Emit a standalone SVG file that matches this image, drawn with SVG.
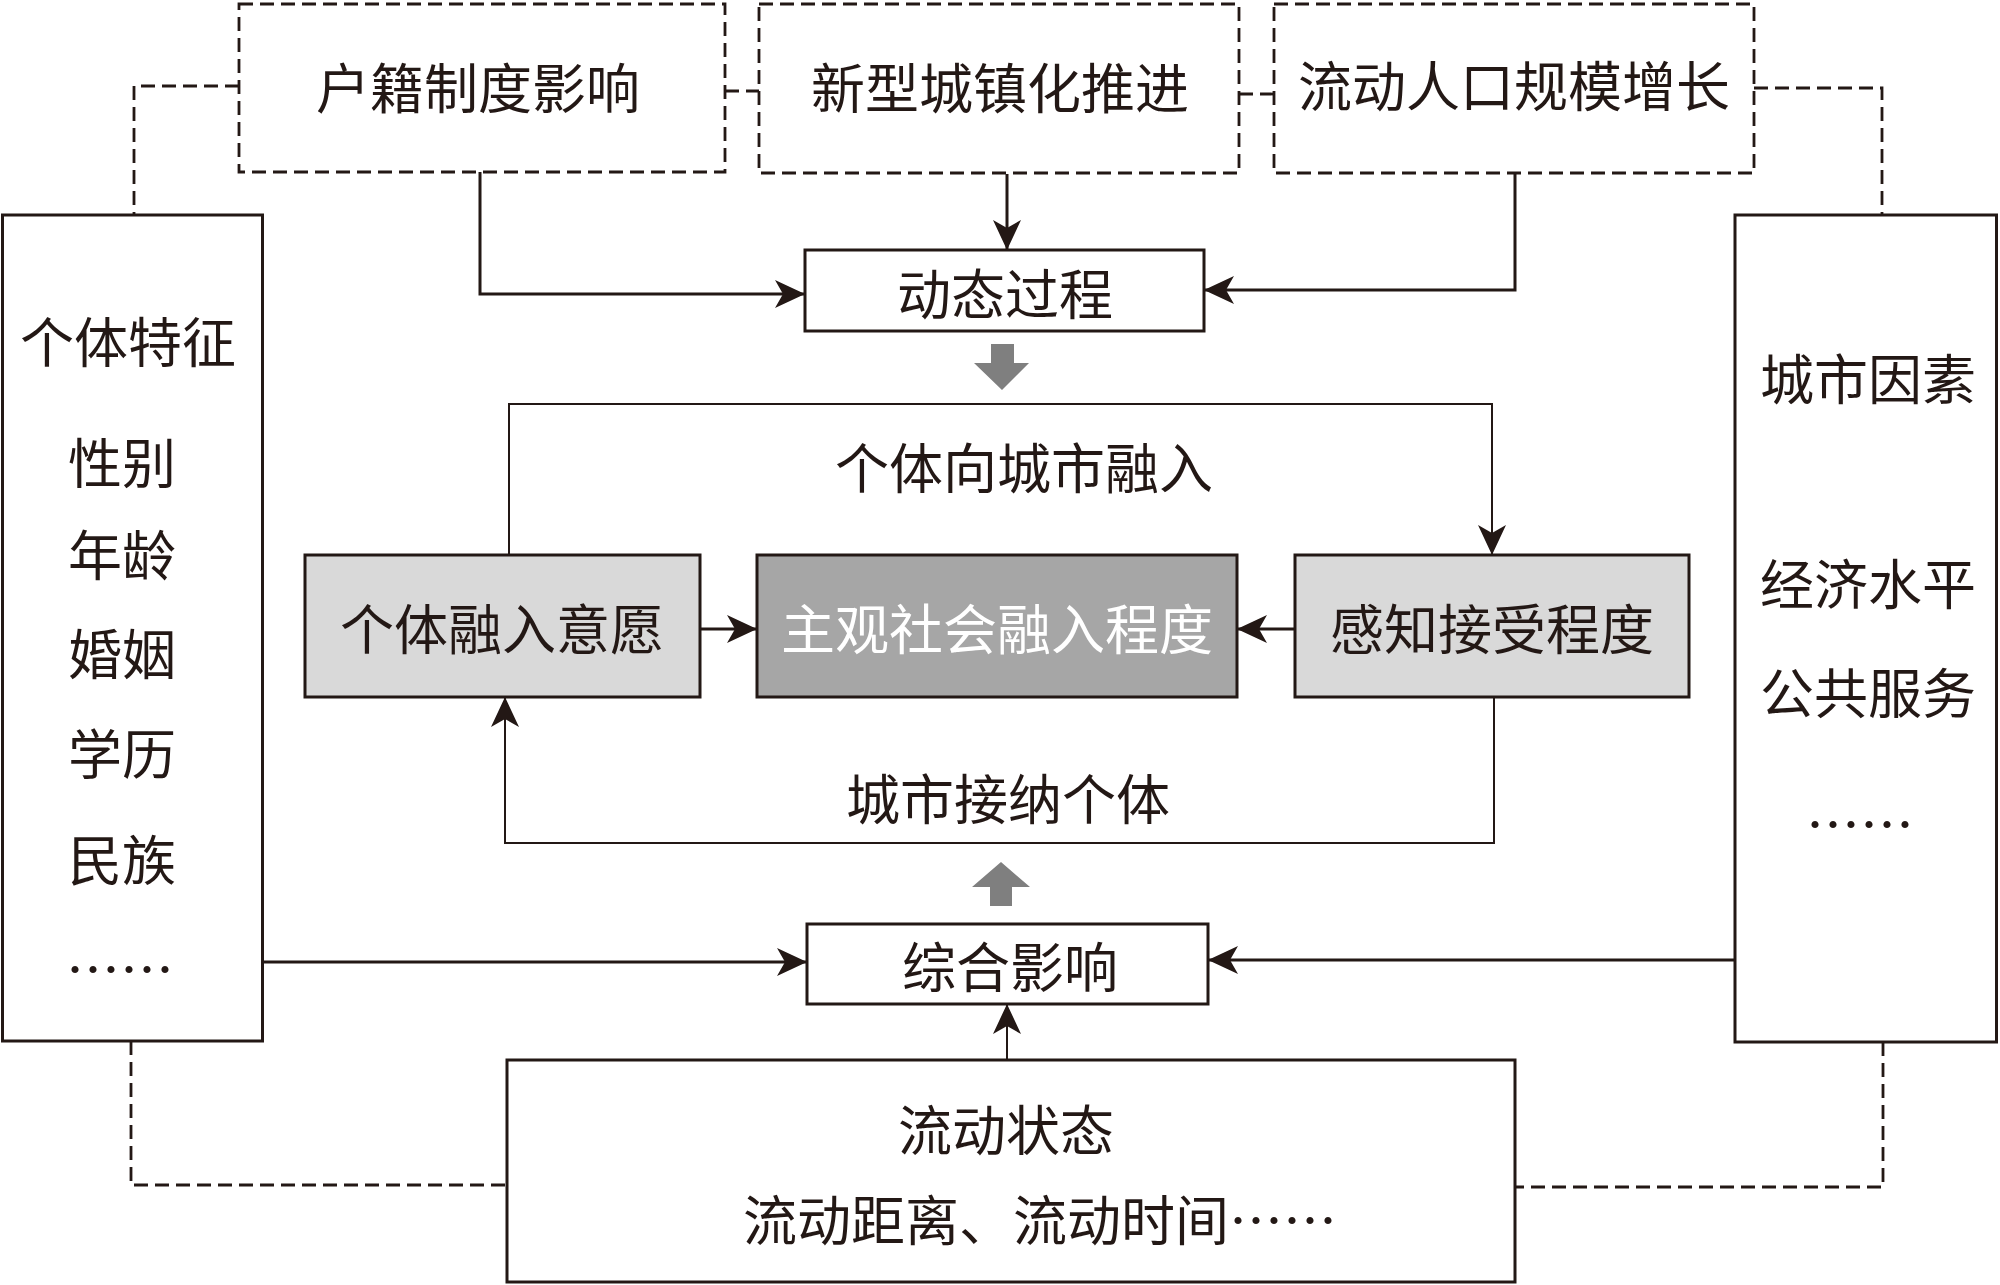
<svg xmlns="http://www.w3.org/2000/svg" width="2000" height="1285" viewBox="0 0 2000 1285">
<defs>
<style>
text{font-family:"Noto Sans CJK SC","Noto Sans",sans-serif;font-size:54px;fill:#231815;text-anchor:middle;dominant-baseline:central;}
.box{fill:#ffffff;stroke:#231815;stroke-width:3;}
.dbox{fill:#ffffff;stroke:#231815;stroke-width:2.8;stroke-dasharray:14 7;}
.light{fill:#d9d9d9;stroke:#231815;stroke-width:3;}
.dark{fill:#a6a6a6;stroke:#231815;stroke-width:3;}
.dash{fill:none;stroke:#231815;stroke-width:2.8;stroke-dasharray:14 7;}
.conn{fill:none;stroke:#231815;stroke-width:3;marker-end:url(#ah);}
.thin{fill:none;stroke:#231815;stroke-width:2;marker-end:url(#ah);}
.gray{fill:#7f7f7f;stroke:none;}
.white{fill:#ffffff;}
</style>
<marker id="ah" markerUnits="userSpaceOnUse" viewBox="0 0 30 28" refX="30" refY="14" markerWidth="30" markerHeight="28" orient="auto">
<path d="M0,0 L30,14 L0,28 L8,14 Z" fill="#231815"/>
</marker>
</defs>

<g id="connectors">
<path class="dash" d="M239,86 H134 V215"/>
<path class="dash" d="M725,91 H759"/>
<path class="dash" d="M1239,94 H1274"/>
<path class="dash" d="M1754,88 H1882 V215"/>
<path class="dash" d="M131,1041 V1185 H507"/>
<path class="dash" d="M1883,1042 V1187 H1515"/>
<path class="conn" d="M480,172 V294 H805"/>
<path class="conn" d="M1007,174 V250"/>
<path class="conn" d="M1515,173 V290 H1204"/>
<polygon class="gray" points="991,344 1014,344 1014,363 1029,363 1002,390 974,363 991,363"/>
<path class="thin" d="M509,555 V404 H1492 V555"/>
<path class="conn" d="M700,629 H757"/>
<path class="conn" d="M1295,629 H1237"/>
<path class="thin" d="M1494,697 V843 H505 V697"/>
<polygon class="gray" points="1001,862 1030,887 1012,887 1012,906 990,906 990,887 972,887"/>
<path class="conn" d="M263,962 H807"/>
<path class="conn" d="M1735,960 H1208"/>
<path class="thin" d="M1007,1060 V1004"/>
</g>

<g id="label-individual-to-city"><text x="1024" y="465">个体向城市融入</text></g>
<g id="label-city-accepts"><text x="1008" y="796">城市接纳个体</text></g>

<g id="hukou">
<rect class="dbox" x="239" y="4" width="486" height="168"/>
<text x="478" y="85">户籍制度影响</text>
</g>
<g id="urbanization">
<rect class="dbox" x="759" y="4" width="480" height="169"/>
<text x="1000" y="85">新型城镇化推进</text>
</g>
<g id="population-growth">
<rect class="dbox" x="1274" y="4" width="480" height="169"/>
<text x="1514" y="83">流动人口规模增长</text>
</g>

<g id="individual-traits">
<rect class="box" x="2.5" y="215" width="260" height="826"/>
<text x="128" y="339">个体特征</text>
<text x="122" y="460">性别</text>
<text x="122" y="552">年龄</text>
<text x="122" y="651">婚姻</text>
<text x="122" y="751">学历</text>
<text x="122" y="857">民族</text>
<text x="120" y="966">……</text>
</g>

<g id="city-factors">
<rect class="box" x="1735" y="215" width="261.5" height="827"/>
<text x="1868" y="376">城市因素</text>
<text x="1868" y="581">经济水平</text>
<text x="1868" y="690">公共服务</text>
<text x="1860" y="821">……</text>
</g>

<g id="dynamic-process">
<rect class="box" x="805" y="250" width="399" height="81"/>
<text x="1005" y="291">动态过程</text>
</g>

<g id="willingness">
<rect class="light" x="305" y="555" width="395" height="142"/>
<text x="502" y="626">个体融入意愿</text>
</g>
<g id="subjective-integration">
<rect class="dark" x="757" y="555" width="480" height="142"/>
<text class="white" x="997" y="626">主观社会融入程度</text>
</g>
<g id="perceived-acceptance">
<rect class="light" x="1295" y="555" width="394" height="142"/>
<text x="1492" y="626">感知接受程度</text>
</g>

<g id="combined-influence">
<rect class="box" x="807" y="924" width="401" height="80"/>
<text x="1010" y="964">综合影响</text>
</g>

<g id="mobility-status">
<rect class="box" x="507" y="1060" width="1008" height="222"/>
<text x="1006" y="1127">流动状态</text>
<text x="1040" y="1217">流动距离、流动时间……</text>
</g>
</svg>
